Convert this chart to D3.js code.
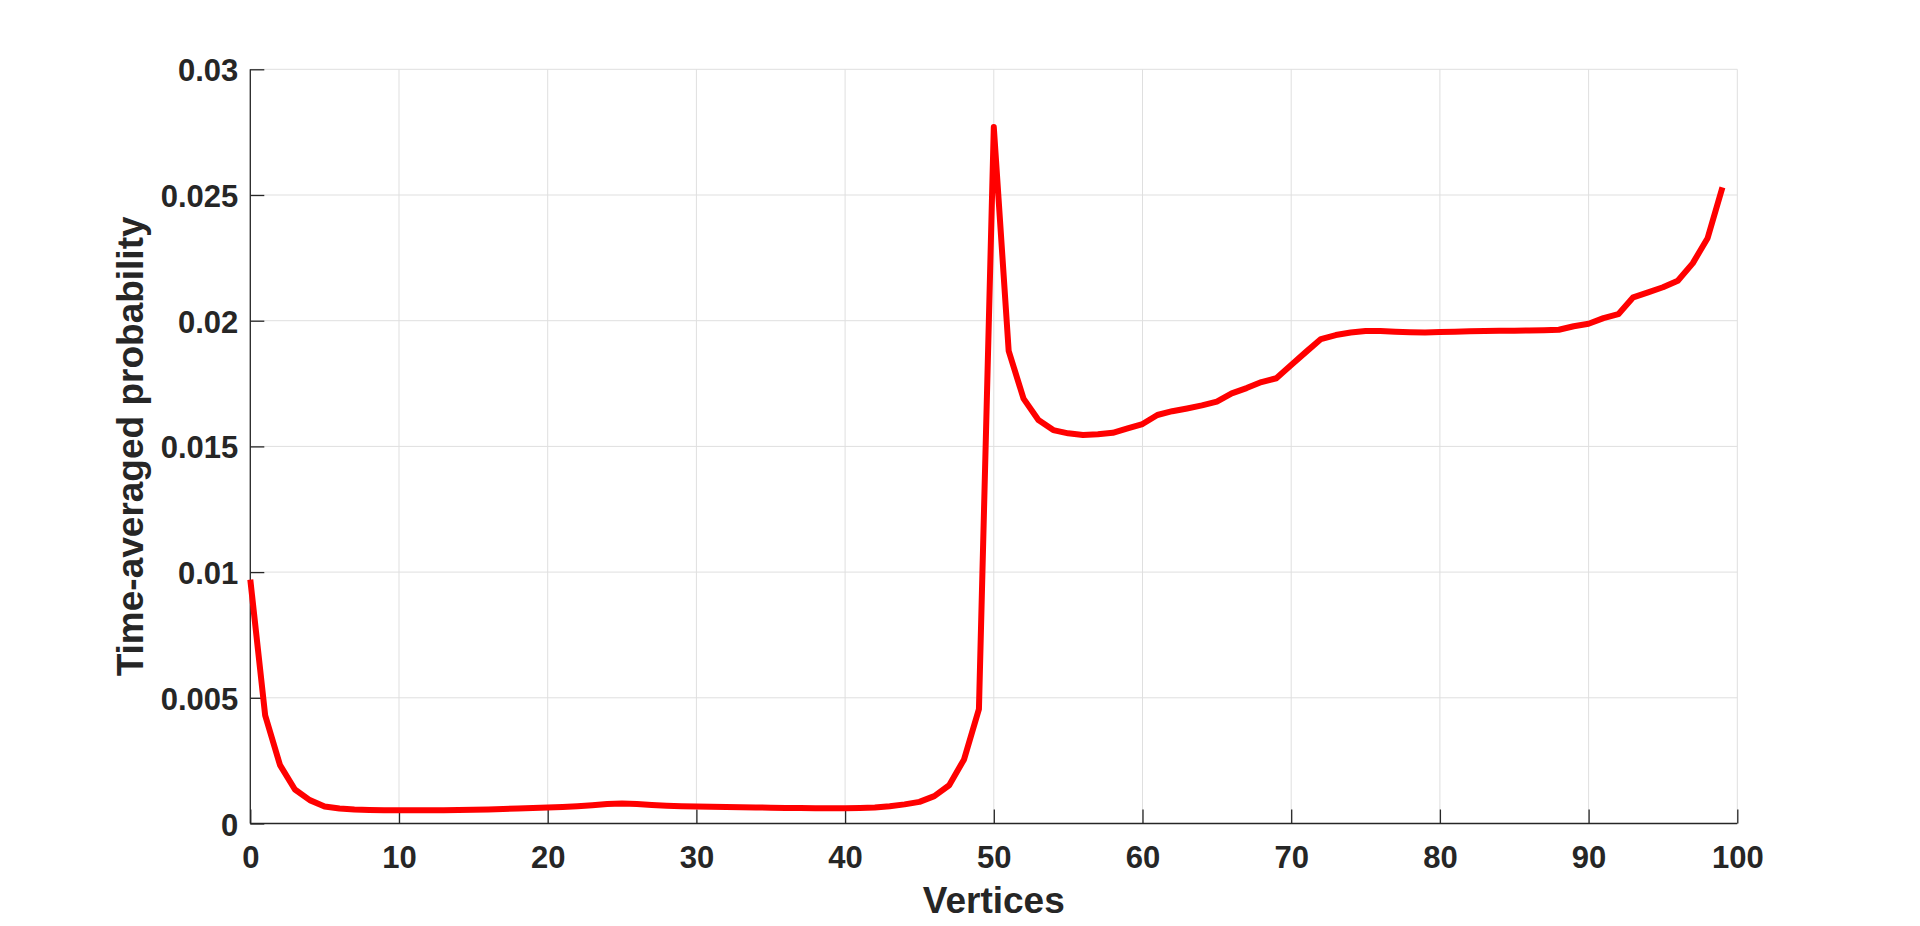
<!DOCTYPE html>
<html>
<head>
<meta charset="utf-8">
<script src="https://cdn.jsdelivr.net/npm/d3@7"></script>
<style>
  html, body { margin: 0; padding: 0; background: #ffffff; }
  svg { display: block; }
  text { font-family: "Liberation Sans", Arial, Helvetica, sans-serif; font-weight: bold; fill: #262626; }
</style>
</head>
<body>
<svg id="chart" width="1920" height="926"></svg>
<script>
// ---- data ----
const vertices = d3.range(0, 100);
const probability = [
  0.0097, 0.0043, 0.00232, 0.00135, 0.00093, 0.00068, 0.0006, 0.00056, 0.00054, 0.00053,
  0.00053, 0.00053, 0.00053, 0.00053, 0.00054, 0.00055, 0.00056, 0.00058, 0.0006, 0.00062,
  0.00064, 0.00066, 0.00069, 0.00073, 0.00078, 0.0008, 0.00078, 0.00074, 0.00071, 0.00069,
  0.00068, 0.00067, 0.00066, 0.00065, 0.00064, 0.00063, 0.00062, 0.00062, 0.00061, 0.00061,
  0.00061, 0.00062, 0.00064, 0.00069, 0.00076, 0.00086, 0.00109, 0.00152, 0.00255, 0.00455,
  0.0277, 0.0188, 0.0169, 0.01605, 0.01565, 0.01552, 0.01545, 0.01548, 0.01554, 0.01572,
  0.01589, 0.01625, 0.0164, 0.01651, 0.01663, 0.01678, 0.01711, 0.01732, 0.01756, 0.01771,
  0.01824, 0.01876, 0.01927, 0.01943, 0.01953, 0.01959, 0.01959, 0.01956, 0.01954, 0.01953,
  0.01955, 0.01956, 0.01958, 0.01959, 0.0196, 0.0196, 0.01961, 0.01962, 0.01964, 0.01978,
  0.01988, 0.0201, 0.02026, 0.02093, 0.02113, 0.02133, 0.02159, 0.02228, 0.02328, 0.0253
];
const xTicks = [0, 10, 20, 30, 40, 50, 60, 70, 80, 90, 100];
const yTicks = [0, 0.005, 0.01, 0.015, 0.02, 0.025, 0.03];
const yTickLabels = ["0", "0.005", "0.01", "0.015", "0.02", "0.025", "0.03"];
const xLabel = "Vertices";
const yLabel = "Time-averaged probability";

// ---- layout ----
const pLeft = 250.3, pRight = 1737.3, pTop = 69.3, pBottom = 823.5;
const svg = d3.select("#chart");

const x = d3.scaleLinear().domain([0, 100]).range([pLeft, pRight]);
const y = d3.scaleLinear().domain([0, 0.03]).range([pBottom, pTop]);

const axisColor = "#262626";
const gridColor = "#dfdfdf";

// grid
const grid = svg.append("g");
grid.selectAll("line.gx").data(xTicks).join("line")
  .attr("class", "gx")
  .attr("x1", d => x(d)).attr("x2", d => x(d))
  .attr("y1", pTop).attr("y2", pBottom)
  .attr("stroke", gridColor).attr("stroke-width", 1);
grid.selectAll("line.gy").data(yTicks).join("line")
  .attr("class", "gy")
  .attr("x1", pLeft).attr("x2", pRight)
  .attr("y1", d => y(d)).attr("y2", d => y(d))
  .attr("stroke", gridColor).attr("stroke-width", 1);

// axes
const xAxis = d3.axisBottom(x).tickValues(xTicks).tickSize(-14).tickPadding(0).tickFormat(d3.format("d"));
const gx = svg.append("g").attr("transform", `translate(0,${pBottom})`).call(xAxis);
gx.select(".domain").attr("stroke", axisColor).attr("stroke-width", 1.3).attr("d", `M${pLeft},0H${pRight}`);
gx.selectAll(".tick line").attr("stroke", axisColor).attr("stroke-width", 1.3);
gx.selectAll(".tick text").attr("y", 44.5).attr("dy", null)
  .style("font-size", "31px").style("font-weight", "bold").attr("fill", axisColor)
  .attr("font-family", "Liberation Sans, Arial, sans-serif");

const yAxis = d3.axisLeft(y).tickValues(yTicks).tickSize(-14).tickPadding(0)
  .tickFormat((d, i) => yTickLabels[i]);
const gy = svg.append("g").attr("transform", `translate(${pLeft},0)`).call(yAxis);
gy.select(".domain").attr("stroke", axisColor).attr("stroke-width", 1.3).attr("d", `M0,${pBottom}V${pTop}`);
gy.selectAll(".tick line").attr("stroke", axisColor).attr("stroke-width", 1.3);
gy.selectAll(".tick text").attr("x", -12).attr("dy", null).attr("y", 11.5)
  .style("font-size", "31px").style("font-weight", "bold").attr("fill", axisColor)
  .attr("font-family", "Liberation Sans, Arial, sans-serif");

// line
const line = d3.line().x((d, i) => x(vertices[i])).y(d => y(d));
svg.append("path")
  .datum(probability)
  .attr("d", line)
  .attr("fill", "none")
  .attr("stroke", "#ff0000")
  .attr("stroke-width", 6)
  .attr("stroke-linejoin", "round")
  .attr("stroke-linecap", "butt");

// labels
svg.append("text")
  .attr("x", (pLeft + pRight) / 2).attr("y", 913)
  .attr("text-anchor", "middle")
  .style("font-size", "37px")
  .text(xLabel);

svg.append("text")
  .attr("transform", `translate(142.5,${(pTop + pBottom) / 2}) rotate(-90)`)
  .attr("text-anchor", "middle")
  .style("font-size", "37px")
  .text(yLabel);
</script>
</body>
</html>
